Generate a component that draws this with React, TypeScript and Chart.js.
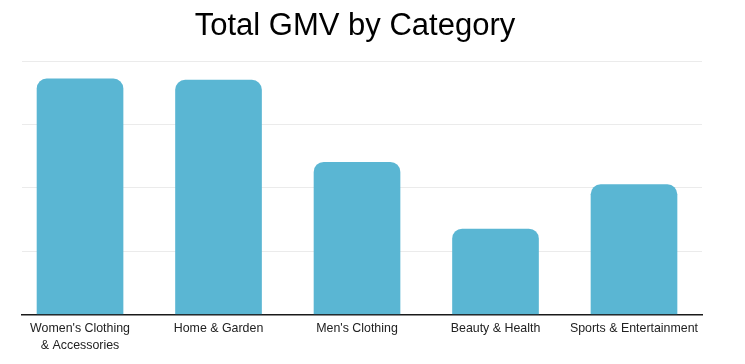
import React, { useEffect, useRef } from "react";
import { Chart, registerables } from "chart.js";

Chart.register(...registerables);

const categories: (string | string[])[] = [
  ["Women's Clothing", "& Accessories"],
  "Home & Garden",
  "Men's Clothing",
  "Beauty & Health",
  "Sports & Entertainment",
];
const gmvValues: number[] = [3.72, 3.7, 2.405, 1.35, 2.05];
const yTicks: number[] = [0, 1, 2, 3, 4];

const FONT = "'Liberation Sans', Arial, Helvetica, sans-serif";

export default function App() {
  const ref = useRef<HTMLCanvasElement | null>(null);

  useEffect(() => {
    document.body.style.margin = "0";
    const canvas = ref.current;
    if (!canvas) return;
    const chart = new Chart(canvas, {
      type: "bar",
      data: {
        datasets: [
          {
            label: "GMV",
            data: gmvValues.map((v, i) => ({ x: i, y: v })),
            backgroundColor: "#5AB6D3",
            borderRadius: 10,
            borderSkipped: "bottom",
            barThickness: 86,
          },
        ],
      },
      options: {
        responsive: false,
        animation: false,
        layout: { padding: { left: 8, right: 43, top: 0, bottom: 4 } },
        plugins: {
          legend: { display: false },
          tooltip: { enabled: false },
          title: {
            display: true,
            text: "Total GMV by Category",
            color: "#000",
            font: { family: FONT, size: 31, weight: "normal", lineHeight: 1.2 },
            padding: { top: 8, bottom: 16 },
          },
        },
        scales: {
          x: {
            type: "linear",
            offset: false,
            bounds: "ticks",
            min: -0.419,
            max: 4.491,
            afterBuildTicks: (scale: any) => {
              scale.ticks = categories.map((_, i) => ({ value: i }));
            },
            grid: { display: false, drawTicks: false, offset: false },
            border: { display: true, color: "#1a1a1a", width: 1.5 },
            ticks: {
              autoSkip: false,
              maxRotation: 0,
              padding: 6,
              color: "#222",
              font: { family: FONT, size: 12.4, lineHeight: 1.35 },
              callback: (v: any) => categories[Math.round(Number(v))] as any,
            },
          },
          y: {
            min: 0,
            max: 4,
            afterBuildTicks: (scale: any) => {
              scale.ticks = yTicks.map((v) => ({ value: v }));
            },
            afterFit: (scale: any) => {
              scale.width = 14;
            },
            ticks: { display: false },
            border: { display: false },
            grid: {
              drawTicks: false,
              color: (ctx: any) => (ctx.tick && ctx.tick.value === 0 ? "rgba(0,0,0,0)" : "#ebebeb"),
              lineWidth: 1,
            },
          },
        },
      },
    } as any);
    return () => chart.destroy();
  }, []);

  return (
    <div style={{ width: 745, height: 364 }}>
      <canvas ref={ref} width={745} height={364} style={{ display: "block" }} />
    </div>
  );
}
